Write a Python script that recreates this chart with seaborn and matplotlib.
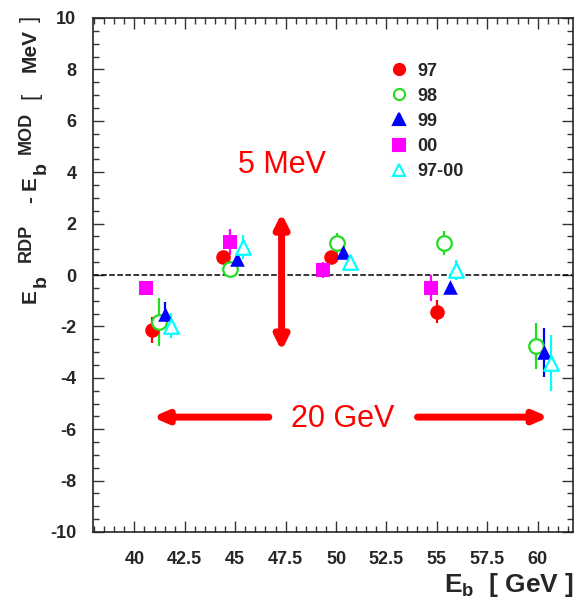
import matplotlib
matplotlib.use("Agg")
import matplotlib.pyplot as plt
from matplotlib.lines import Line2D
from matplotlib.ticker import MultipleLocator
import seaborn as sns
import pandas as pd

# beam energy (GeV), E_b(RDP) - E_b(MOD) (MeV), error (MeV)
x_97 = [40.88, 44.39, 49.74, 55.03]
y_97 = [-2.14, 0.70, 0.70, -1.43]
e_97 = [0.5, 0.2, 0.2, 0.45]

x_98 = [41.22, 44.74, 50.03, 55.33, 59.93]
y_98 = [-1.82, 0.23, 1.24, 1.25, -2.76]
e_98 = [0.93, 0.3, 0.4, 0.47, 0.9]

x_99 = [41.52, 45.08, 50.33, 55.67, 60.33]
y_99 = [-1.50, 0.62, 0.90, -0.47, -3.0]
e_99 = [0.45, 0.2, 0.2, 0.15, 0.95]

x_00 = [40.58, 44.74, 49.34, 54.73]
y_00 = [-0.51, 1.28, 0.19, -0.51]
e_00 = [0.2, 0.5, 0.3, 0.5]

x_all = [41.82, 45.38, 50.68, 55.97, 60.66]
y_all = [-1.97, 1.09, 0.51, 0.20, -3.42]
e_all = [0.5, 0.45, 0.2, 0.4, 1.1]

labels = ["97", "98", "99", "00", "97-00"]

sns.set_style("ticks")
plt.rcParams["font.family"] = ["Liberation Sans", "DejaVu Sans"]
plt.rcParams["axes.unicode_minus"] = False
plt.rcParams["mathtext.fontset"] = "custom"
plt.rcParams["mathtext.rm"] = "Liberation Sans:bold"
plt.rcParams["mathtext.bf"] = "Liberation Sans:bold"
plt.rcParams["mathtext.it"] = "Liberation Sans:bold"

W, H = 581, 605
fig = plt.figure(figsize=(W / 100, H / 100), dpi=100)
ax = fig.add_axes([93 / W, 1 - 532 / H, 480 / W, 514 / H])

series = [
    (x_97, y_97, e_97, "red", "o", True),
    (x_98, y_98, e_98, "#22dd22", "o", False),
    (x_99, y_99, e_99, "blue", "^", True),
    (x_00, y_00, e_00, "magenta", "s", True),
    (x_all, y_all, e_all, "cyan", "^", False),
]

handles = []
for (xs, ys, es, c, m, filled), lab in zip(series, labels):
    df = pd.DataFrame({"Eb": xs, "dE": ys})
    ax.errorbar(xs, ys, yerr=es, fmt="none", ecolor=c, elinewidth=1.6, zorder=2)
    if filled:
        sns.scatterplot(data=df, x="Eb", y="dE", marker=m, color=c, s=110,
                        linewidth=0, ax=ax, zorder=3)
    else:
        sns.scatterplot(data=df, x="Eb", y="dE", marker=m, facecolor="white",
                        edgecolor=c, s=110, linewidth=1.6, ax=ax, zorder=3)
    handles.append(Line2D([], [], ls="none", marker=m, markersize=8,
                          markerfacecolor=c if filled else "none",
                          markeredgecolor=c, markeredgewidth=1.5, label=lab))

ax.axhline(0, color="black", ls="--", lw=1.1, zorder=1)

# 5 MeV arrow
ax.annotate("", xy=(47.3, 2.4), xytext=(47.3, -2.95),
            arrowprops=dict(arrowstyle="<|-|>,head_length=0.8,head_width=0.4",
                            color="red", lw=5, shrinkA=0, shrinkB=0))
ax.text(47.3, 4.27, "5 MeV", color="red", fontsize=22, ha="center", va="center")

# 20 GeV arrows
ax.annotate("", xy=(40.9, -5.53), xytext=(46.67, -5.53),
            arrowprops=dict(arrowstyle="-|>,head_length=0.8,head_width=0.35",
                            color="red", lw=5, shrinkA=0, shrinkB=0))
ax.annotate("", xy=(60.55, -5.53), xytext=(54.04, -5.53),
            arrowprops=dict(arrowstyle="-|>,head_length=0.8,head_width=0.35",
                            color="red", lw=5, shrinkA=0, shrinkB=0))
ax.text(50.35, -5.6, "20 GeV", color="red", fontsize=22, ha="center", va="center")

ax.set_xlim(37.95, 61.75)
ax.set_ylim(-10, 10)
ax.xaxis.set_minor_locator(MultipleLocator(0.5))
ax.yaxis.set_major_locator(MultipleLocator(2))
ax.yaxis.set_minor_locator(MultipleLocator(0.5))
ax.set_xticks([40, 42.5, 45, 47.5, 50, 52.5, 55, 57.5, 60])
ax.set_xticklabels(["40", "42.5", "45", "47.5", "50", "52.5", "55", "57.5", "60"])
ax.tick_params(which="both", direction="in", top=True, right=True,
               labelsize=13, width=1, color="#333333")
ax.tick_params(which="major", length=8, pad=12)
ax.tick_params(which="minor", length=4)
ax.tick_params(axis="x", which="major", pad=14)
for lbl in ax.get_xticklabels() + ax.get_yticklabels():
    lbl.set_fontweight("bold")
for sp in ax.spines.values():
    sp.set_linewidth(1.2)
ax.set_xlabel("")
ax.set_ylabel("")

# y axis title, built piece by piece (text, size, weight, baseline x px, start y px)
ylabel_parts = [
    ("E", 15, "bold", 36, 303),
    ("b", 14, "bold", 46, 287),
    ("RDP", 13, "bold", 31, 262),
    ("-", 15, "bold", 36, 203),
    ("E", 15, "bold", 36, 190),
    ("b", 14, "bold", 46, 174),
    ("MOD", 13, "bold", 31, 154),
    ("[", 16, "normal", 36, 99),
    ("MeV", 15, "bold", 36, 72),
    ("]", 16, "normal", 36, 22),
]
for s, size, weight, px, py in ylabel_parts:
    fig.text(px / W, 1 - py / H, s, rotation=90, rotation_mode="anchor",
             ha="left", va="baseline", fontsize=size, fontweight=weight)

fig.text(574 / W, 1 - 585 / H, r"$\mathbf{E_b}$  [ GeV ]",
         ha="right", va="center", fontsize=19, fontweight="bold")

ax.legend(handles=handles, loc="upper left", bbox_to_anchor=(0.585, 0.945),
          frameon=False, handlelength=1.0, handletextpad=0.5,
          labelspacing=0.45, prop={"weight": "bold", "size": 13})

fig.savefig("out.png", dpi=100)
